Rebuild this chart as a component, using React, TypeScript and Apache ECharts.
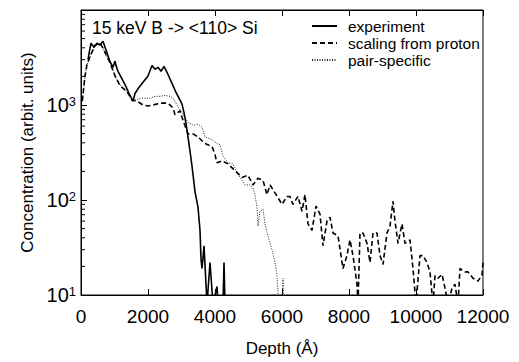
import React, { useEffect, useRef } from "react";
import * as echarts from "echarts";

const seriesNames = ["experiment", "scaling from proton", "pair-specific"];
const titleText = "15 keV B -> <110> Si";
const xTitle = "Depth (Å)";
const yTitle = "Concentration (arbit. units)";

// [depth (Å), concentration]
const experiment: number[][] = [
  [209, 3000], [260, 3800], [299, 4470], [388, 4060], [478, 4470], [567, 4270], [657, 4680],
  [746, 3790], [866, 2860], [955, 2490], [1015, 2900], [1045, 2600], [1104, 2265], [1224, 1880],
  [1343, 1560], [1463, 1260], [1552, 1095], [1612, 1320], [1701, 1480], [1791, 1630], [1881, 1790],
  [2000, 2020], [2119, 2610], [2209, 2375], [2298, 2490], [2388, 2265], [2478, 2550], [2567, 2210],
  [2657, 1880], [2746, 1600], [2836, 1355], [2925, 1180], [3015, 1020], [3075, 830], [3134, 640],
  [3194, 462], [3254, 326], [3313, 229], [3403, 122], [3492, 84], [3552, 48], [3582, 24], [3612, 19],
  [3672, 33], [3701, 21], [3761, 8], [3851, 22], [3940, 8], [4060, 12.3], [4090, 8], [4239, 8],
  [4269, 22], [4299, 8],
];

const scaling: number[][] = [
  [40, 1100], [119, 2020], [179, 2670], [269, 3220], [418, 4260], [567, 4470], [650, 4000],
  [746, 3400], [866, 2800], [1015, 2020], [1164, 1600], [1373, 1387], [1522, 1125], [1672, 1100],
  [1851, 1000], [2000, 977], [2149, 1000], [2358, 1047], [2567, 1047], [2657, 1000], [2746, 933],
  [2806, 791], [2955, 869], [3045, 689], [3194, 496], [3343, 496], [3492, 462], [3612, 420],
  [3761, 383], [3910, 366], [4000, 300], [4060, 246], [4209, 258], [4388, 240], [4597, 204],
  [4806, 173], [4985, 182], [5134, 144], [5283, 169], [5433, 161], [5552, 114], [5642, 144],
  [5791, 119], [6000, 90], [6149, 109], [6239, 109], [6328, 90], [6477, 109], [6597, 76],
  [6686, 114], [6776, 56], [6895, 48], [7015, 86], [7134, 71], [7224, 33], [7343, 60], [7433, 66],
  [7522, 45], [7671, 42], [7821, 19], [7940, 26], [8030, 38], [8119, 26], [8239, 13], [8269, 8],
  [8328, 45], [8418, 45], [8537, 35], [8627, 22], [8716, 45], [8836, 45], [8925, 26], [9015, 21],
  [9134, 45], [9224, 53], [9313, 97], [9373, 60], [9463, 35], [9582, 56], [9672, 35], [9821, 38],
  [9910, 19], [10000, 8], [10119, 26], [10209, 26], [10328, 22], [10418, 17.5], [10507, 8],
  [10567, 16], [10657, 15], [10776, 16.5], [10866, 11.8], [10955, 8], [11075, 11.8], [11164, 13],
  [11254, 8], [11313, 19], [11463, 17.5], [11552, 17.5], [11701, 15], [11851, 14], [11970, 16.3],
  [12000, 22],
];

const pairSpecific: number[][] = [
  [40, 1100], [119, 2020], [179, 2670], [269, 3220], [418, 4260], [567, 4470], [650, 4000],
  [746, 3400], [866, 2800], [1015, 2050], [1164, 1620], [1373, 1390], [1552, 1100], [1761, 1178],
  [1910, 1178], [2060, 1178], [2209, 1234], [2358, 1234], [2507, 1262], [2657, 1234], [2746, 1178],
  [2866, 1000], [3015, 830], [3104, 738], [3194, 656], [3343, 612], [3492, 627], [3612, 584],
  [3701, 462], [3910, 431], [4060, 393], [4149, 383], [4239, 290], [4388, 246], [4537, 240],
  [4657, 195], [4806, 161], [4895, 144], [5045, 144], [5134, 134], [5194, 114], [5254, 84],
  [5283, 53], [5343, 76], [5433, 80], [5492, 56], [5582, 42], [5701, 30], [5791, 22], [5851, 16],
  [5900, 8], [6000, 8], [6030, 15], [6060, 8],
];

const minorTickValues = [
  20, 30, 40, 50, 60, 70, 80, 90,
  200, 300, 400, 500, 600, 700, 800, 900,
  2000, 3000, 4000, 5000, 6000, 7000, 8000, 9000,
];

const FONT = "'Liberation Sans', Arial, Helvetica, sans-serif";

export default function App() {
  const ref = useRef<HTMLDivElement>(null);
  useEffect(() => {
    if (!ref.current) return;
    const chart = echarts.init(ref.current, null, { renderer: "svg" });
    chart.setOption({
      animation: false,
      backgroundColor: "#fff",
      textStyle: { fontFamily: FONT, color: "#000" },
      title: {
        text: titleText,
        left: 92,
        top: 19,
        padding: 0,
        textStyle: { fontFamily: FONT, fontSize: 17.5, fontWeight: "normal", color: "#000" },
      },
      legend: {
        data: seriesNames,
        orient: "vertical",
        left: 311,
        top: 18,
        padding: 0,
        itemWidth: 25,
        itemHeight: 10,
        itemGap: 1,
        itemStyle: { opacity: 0 },
        textStyle: { fontFamily: FONT, fontSize: 15.5, color: "#000", lineHeight: 16, padding: [0, 0, 0, 6] },
      },
      grid: {
        left: 81,
        right: 36,
        top: 10,
        bottom: 58,
        show: true,
        borderColor: "#000",
        borderWidth: 1,
        backgroundColor: "transparent",
      },
      xAxis: [
        {
          type: "value",
          min: 0,
          max: 12000,
          interval: 2000,
          name: xTitle,
          nameLocation: "middle",
          nameGap: 45,
          nameTextStyle: { fontFamily: FONT, fontSize: 17, color: "#000" },
          axisLine: { lineStyle: { color: "#000", width: 1 } },
          axisTick: { inside: true, length: 6, lineStyle: { color: "#000" } },
          axisLabel: {
            fontFamily: FONT,
            fontSize: 19,
            color: "#000",
            margin: 12,
            formatter: (v: number) => String(v),
          },
          splitLine: { show: false },
        },
        {
          type: "value",
          position: "top",
          min: 0,
          max: 12000,
          interval: 2000,
          axisLine: { show: true, lineStyle: { color: "#000", width: 1 } },
          axisTick: { inside: true, length: 6, lineStyle: { color: "#000" } },
          axisLabel: { show: false },
          splitLine: { show: false },
        },
      ],
      yAxis: {
        type: "log",
        logBase: 10,
        min: 10,
        max: 10000,
        name: yTitle,
        nameLocation: "middle",
        nameGap: 40,
        nameTextStyle: { fontFamily: FONT, fontSize: 17, color: "#000" },
        axisLine: { show: true, lineStyle: { color: "#000", width: 1 } },
        axisTick: { inside: true, length: 6, lineStyle: { color: "#000" } },
        splitLine: { show: false },
        axisLabel: {
          margin: 5,
          fontSize: 20,
          fontFamily: FONT,
          color: "#000",
          formatter: (v: number) => {
            const e = Math.round(Math.log10(v));
            if (e >= 4) return "";
            return `{a|10}{b|${e}}`;
          },
          rich: {
            a: { fontFamily: FONT, fontSize: 20, color: "#000" },
            b: { fontFamily: FONT, fontSize: 13, color: "#000", verticalAlign: "top" },
          },
        },
      },
      series: [
        {
          name: seriesNames[0],
          type: "line",
          data: experiment,
          showSymbol: false,
          symbol: "none",
          clip: true,
          lineStyle: { color: "#000", width: 1.6, type: "solid" },
          itemStyle: { color: "#000" },
          z: 4,
        },
        {
          name: seriesNames[1],
          type: "line",
          data: scaling,
          showSymbol: false,
          symbol: "none",
          clip: true,
          lineStyle: { color: "#000", width: 1.6, type: [5, 3] },
          itemStyle: { color: "#000" },
          z: 3,
        },
        {
          name: seriesNames[2],
          type: "line",
          data: pairSpecific,
          showSymbol: false,
          symbol: "none",
          clip: true,
          lineStyle: { color: "#222", width: 1, type: [1, 1.5] },
          itemStyle: { color: "#222" },
          z: 2,
        },
        {
          name: "minor ticks",
          type: "custom",
          silent: true,
          data: minorTickValues.map((v) => [0, v]),
          renderItem: (_params: any, api: any) => {
            const p = api.coord([0, api.value(1)]);
            return {
              type: "line",
              shape: { x1: p[0], y1: p[1], x2: p[0] + 4, y2: p[1] },
              style: { stroke: "#000", lineWidth: 1 },
            };
          },
          z: 5,
        },
      ],
    });
    return () => chart.dispose();
  }, []);
  return (
    <div
      ref={ref}
      style={{ position: "fixed", left: 0, top: 0, width: 519, height: 362, background: "#fff" }}
    />
  );
}
